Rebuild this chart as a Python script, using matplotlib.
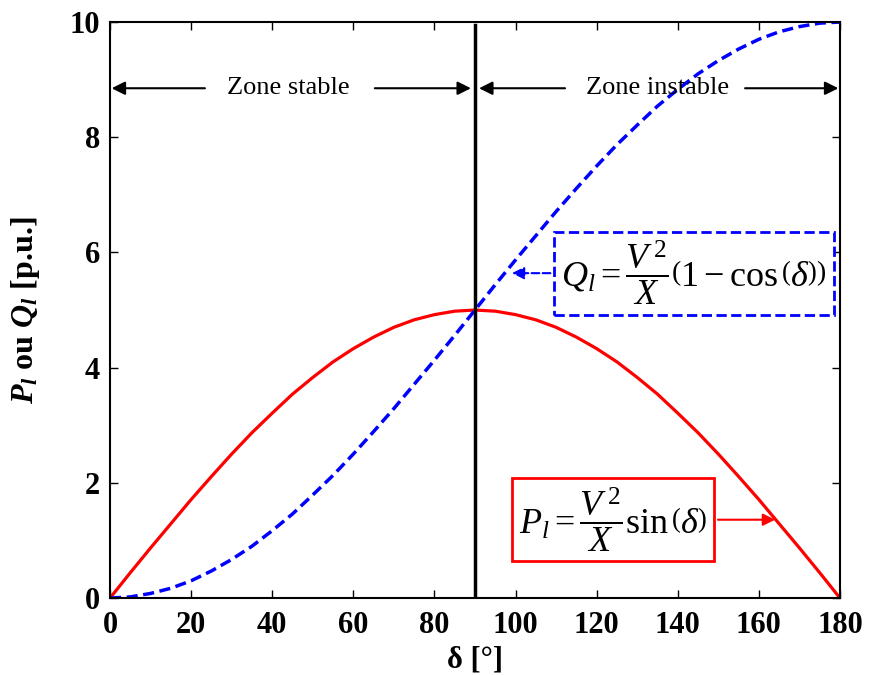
import numpy as np
from matplotlib import pyplot as plt

plt.rcParams['font.family'] = ['Liberation Serif', 'DejaVu Serif']
plt.rcParams['mathtext.fontset'] = 'custom'
plt.rcParams['mathtext.rm'] = 'Liberation Serif'
plt.rcParams['mathtext.it'] = 'Liberation Serif:italic'
plt.rcParams['mathtext.bf'] = 'Liberation Serif:bold'
plt.rcParams['mathtext.bfit'] = 'Liberation Serif:italic:bold'

# angle en degres
delta = [0, 5, 10, 15, 20, 25, 30, 35, 40, 45, 50, 55, 60, 65, 70, 75, 80, 85, 90,
         95, 100, 105, 110, 115, 120, 125, 130, 135, 140, 145, 150, 155, 160, 165, 170, 175, 180]
# puissance active
P = [0, 0.44, 0.87, 1.29, 1.71, 2.11, 2.5, 2.87, 3.21, 3.54, 3.83, 4.10, 4.33, 4.53, 4.70, 4.83, 4.92, 4.98, 5.0,
     4.98, 4.92, 4.83, 4.70, 4.53, 4.33, 4.10, 3.83, 3.54, 3.21, 2.87, 2.5, 2.11, 1.71, 1.29, 0.87, 0.44, 0]
# puissance reactive
Q = [0, 0.02, 0.08, 0.17, 0.30, 0.47, 0.67, 0.90, 1.17, 1.46, 1.79, 2.13, 2.5, 2.89, 3.29, 3.71, 4.13, 4.56, 5.0,
     5.44, 5.87, 6.29, 6.71, 7.11, 7.5, 7.87, 8.21, 8.54, 8.83, 9.10, 9.33, 9.53, 9.70, 9.83, 9.92, 9.98, 10.0]
xticks = [0, 20, 40, 60, 80, 100, 120, 140, 160, 180]
yticks = [0, 2, 4, 6, 8, 10]

fig = plt.figure(figsize=(8.69, 6.75), dpi=100)
ax = fig.add_axes([0.1266, 0.114, 0.84, 0.8534])

ax.plot(delta, P, color='red', lw=2.3)
ax.plot(delta, Q, color='blue', lw=2.5, ls=(0, (3.2, 1.6)))
ax.plot([90, 90], [0, 9.95], color='black', lw=2.5)


def zone_arrow(x0, x1, y=8.85):
    ax.annotate('', xy=(x1, y), xytext=(x0, y),
                arrowprops=dict(arrowstyle='-|>', color='black', lw=1.5, mutation_scale=20,
                                shrinkA=0, shrinkB=0))


# zones
zone_arrow(23.4, 0.4)
zone_arrow(65.3, 89.0)
zone_arrow(112.2, 91.0)
zone_arrow(156.6, 179.6)
ax.text(43.9, 8.85, 'Zone stable', fontsize=19, ha='center', va='center')
ax.text(134.9, 8.85, 'Zone instable', fontsize=19, ha='center', va='center')

# formules
ax.annotate(r'$Q_l = \dfrac{V^{\,2}}{X}\left(1-\cos\left(\delta\right)\right)$',
            xy=(99.1, 5.64), xytext=(144, 5.64), fontsize=26, ha='center', va='center',
            bbox=dict(boxstyle='square,pad=0.2', facecolor='white', edgecolor='blue', lw=2, ls='--'),
            arrowprops=dict(arrowstyle='-|>', color='blue', lw=1.5, ls='--', mutation_scale=18, shrinkB=0))
ax.annotate(r'$P_l = \dfrac{V^{\,2}}{X}\sin\left(\delta\right)$',
            xy=(164, 1.36), xytext=(124, 1.36), fontsize=26, ha='center', va='center',
            bbox=dict(boxstyle='square,pad=0.2', facecolor='white', edgecolor='red', lw=2),
            arrowprops=dict(arrowstyle='-|>', color='red', lw=1.5, mutation_scale=18, shrinkB=0))

ax.set_xlim(0, 180)
ax.set_ylim(0, 10)
ax.set_xticks(xticks)
ax.set_yticks(yticks)
ax.tick_params(direction='in', top=True, right=True, length=6, width=1, labelsize=22, pad=7)
ax.tick_params(axis='x', pad=9)
for lab in ax.get_xticklabels() + ax.get_yticklabels():
    lab.set_fontweight('bold')
for sp in ax.spines.values():
    sp.set_linewidth(1.5)
ax.set_xlabel('δ [°]', fontsize=22, fontweight='bold', labelpad=4)
ax.set_ylabel(r'$\mathbfit{P_l}$ ou $\mathbfit{Q_l}$ [p.u.]', fontsize=23, fontweight='bold', labelpad=20)

fig.savefig('out.png', dpi=100)
